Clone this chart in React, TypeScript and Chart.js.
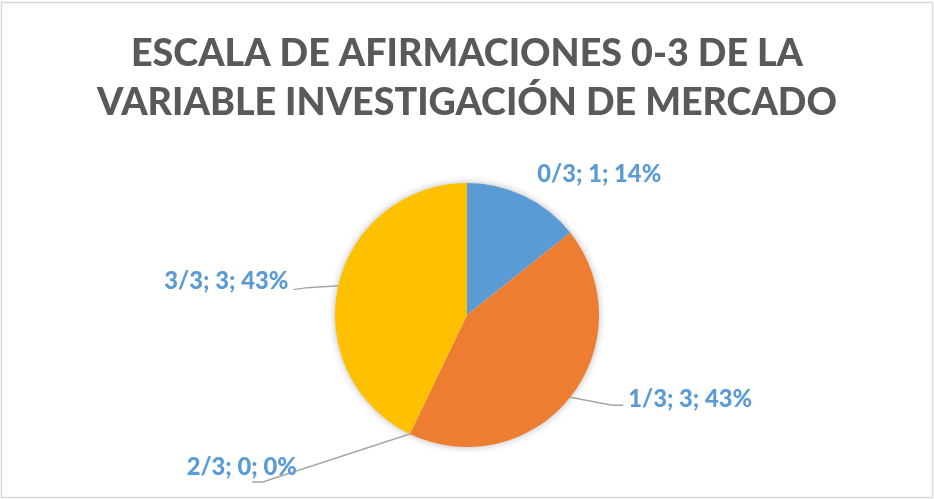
import React, { useEffect, useRef } from "react";
import { Chart, registerables } from "chart.js";

Chart.register(...registerables);

const titleLines = ["ESCALA DE AFIRMACIONES 0-3 DE LA", "VARIABLE INVESTIGACIÓN DE MERCADO"];
const categories = ["0/3", "1/3", "2/3", "3/3"];
const values = [1, 3, 0, 3];
const colors = ["#5B9BD5", "#ED7D31", "#A5A5A5", "#FFC000"];

// label placement relative to the slice's outer edge point at its mid angle
const labelLayout = [
  { text: [75, -22], align: "center", line: null },
  { text: [58, 2], align: "left", line: [[42, 8], [53, 8]] },
  { text: [-168, 33], align: "center", line: [[-147, 48], [-158, 48]] },
  { text: [-50, -4], align: "right", line: [[-31, 2], [-45, 4]] },
];

const FONT = "Lato, 'Open Sans', sans-serif";

const decorPlugin = {
  id: "decor",
  beforeDatasetsDraw(chart: any) {
    const meta = chart.getDatasetMeta(0);
    const a = meta.data[0];
    if (!a) return;
    const { x, y, outerRadius } = a.getProps(["x", "y", "outerRadius"], true);
    const ctx = chart.ctx;
    ctx.save();
    ctx.shadowColor = "rgba(0,0,0,0.35)";
    ctx.shadowBlur = 9;
    ctx.fillStyle = "#ffffff";
    ctx.beginPath();
    ctx.arc(x, y, outerRadius - 1, 0, Math.PI * 2);
    ctx.fill();
    ctx.restore();
  },
  afterDraw(chart: any) {
    const ctx = chart.ctx;
    const W = chart.width;
    ctx.save();
    // border
    ctx.strokeStyle = "#D9D9D9";
    ctx.lineWidth = 1.5;
    ctx.strokeRect(1.5, 2.5, W - 3, chart.height - 4);

    // title
    ctx.fillStyle = "#595959";
    ctx.textAlign = "center";
    ctx.textBaseline = "alphabetic";
    ctx.font = `900 40px ${FONT}`;
    const wSum =
      ctx.measureText(titleLines[0]).width + ctx.measureText(titleLines[1]).width;
    const tSize = (40 * 1413) / wSum;
    ctx.font = `900 ${tSize}px ${FONT}`;
    ctx.fillText(titleLines[0], W / 2, 66);
    ctx.fillText(titleLines[1], W / 2, 115);

    // labels
    const meta = chart.getDatasetMeta(0);
    const total = values.reduce((s, v) => s + v, 0);
    const texts = categories.map(
      (c, i) => `${c}; ${values[i]}; ${Math.round((values[i] / total) * 100)}%`
    );
    ctx.font = `900 20px ${FONT}`;
    const lw = ctx.measureText(texts[0]).width;
    const lSize = (20 * 124) / lw;
    ctx.font = `900 ${lSize}px ${FONT}`;
    ctx.textBaseline = "middle";
    meta.data.forEach((arc: any, i: number) => {
      const { x, y, startAngle, endAngle, outerRadius } = arc.getProps(
        ["x", "y", "startAngle", "endAngle", "outerRadius"],
        true
      );
      const mid = (startAngle + endAngle) / 2;
      const ex = x + Math.cos(mid) * outerRadius;
      const ey = y + Math.sin(mid) * outerRadius;
      const lay = labelLayout[i];
      if (lay.line) {
        ctx.strokeStyle = "#A6A6A6";
        ctx.lineWidth = 1.5;
        ctx.beginPath();
        ctx.moveTo(ex, ey);
        lay.line.forEach((p: number[]) => ctx.lineTo(ex + p[0], ey + p[1]));
        ctx.stroke();
      }
      ctx.fillStyle = "#5B9BD5";
      ctx.textAlign = lay.align as CanvasTextAlign;
      ctx.fillText(texts[i], ex + lay.text[0], ey + lay.text[1]);
    });
    ctx.restore();
  },
};

export default function App() {
  const ref = useRef<HTMLCanvasElement>(null);
  useEffect(() => {
    if (!ref.current) return;
    const chart = new Chart(ref.current, {
      type: "pie",
      data: {
        labels: categories,
        datasets: [
          {
            data: values,
            backgroundColor: colors,
            borderWidth: 0,
          },
        ],
      },
      options: {
        responsive: false,
        animation: false,
        devicePixelRatio: 1,
        layout: { padding: { top: 183, bottom: 52, left: 0, right: 0 } },
        plugins: {
          legend: { display: false },
          tooltip: { enabled: false },
          title: { display: false },
        },
      },
      plugins: [decorPlugin],
    });
    return () => chart.destroy();
  }, []);
  return (
    <div style={{ position: "fixed", left: 0, top: 0, width: 934, height: 499, background: "#fff" }}>
      <canvas ref={ref} width={934} height={499} style={{ display: "block" }} />
    </div>
  );
}
